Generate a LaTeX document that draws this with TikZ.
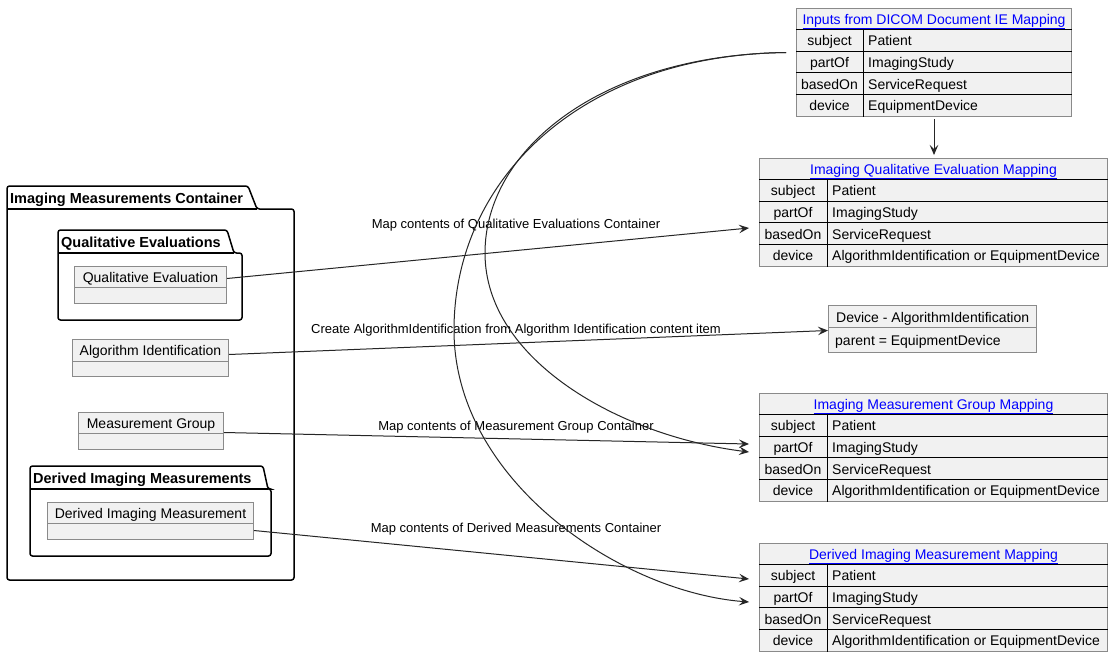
\documentclass[tikz,border=0pt]{standalone}
\usepackage{fontspec}
\setmainfont{Liberation Sans}
\usetikzlibrary{arrows.meta,calc}
\definecolor{boxfill}{HTML}{F1F1F1}
\definecolor{boxline}{HTML}{8A8A8A}
\definecolor{linkblue}{HTML}{0000FF}

\tikzset{
  clsbox/.style={draw=boxline, fill=boxfill, line width=1pt, inner sep=0pt, anchor=north west},
  clsrule/.style={draw=boxline, line width=1pt},
  clsname/.style={font=\fontsize{14}{16}\selectfont, inner sep=0pt, text height=14pt, text depth=3pt},
  tblbox/.style={draw=boxline, fill=boxfill, line width=1pt, inner sep=0pt, anchor=north west},
  tblrule/.style={draw=black, line width=0.9pt},
  tblcell/.style={font=\fontsize{14}{16}\selectfont, inner sep=0pt, text height=14pt, text depth=3pt},
  tbltitle/.style={tblcell, text=linkblue},
  pkgframe/.style={draw=black, fill=white, line width=1.5pt, rounded corners=2.5pt},
  pkgtitle/.style={font=\fontsize{14.5}{16}\selectfont\bfseries, inner sep=0pt, anchor=west, text height=14pt, text depth=3pt},
  edgelabel/.style={font=\fontsize{13}{15}\selectfont, inner sep=0pt},
  arr/.style={draw=black!85, line width=1pt, -{Stealth[length=10pt,width=8.5pt,inset=4pt]}},
}

% package: name, left, tab top, tab corner x, tab foot x, body top, right, bottom, title
\newcommand\umlpackage[9]{%
  \draw[pkgframe] (#2,#6) -- (#2,#3) -- (#4,#3) -- (#5,#6) -- (#7,#6) -- (#7,#8) -- (#2,#8) -- cycle;
  \draw[black, line width=1.5pt] (#2,#6) -- (#5,#6);
  \node[pkgtitle] (#1) at ({#2+3},{(#3+#6)/2}) {#9};
}

% class box: name, left, top, width, height, header height, text
\newcommand\classbox[7]{%
  \node[clsbox, minimum width=#4, minimum height=#5] (#1) at (#2,#3) {};
  \draw[clsrule] ($(#1.north west)+(0,#6)$) -- ($(#1.north east)+(0,#6)$);
  \node[clsname] (#1-name) at ($(#1.north)+(0,{#6/2})$) {#7};
}

% mapping table: name, left, top, width, key column width, title, device value
\newcommand\maptable[7]{%
  \node[tblbox, minimum width=#4, minimum height=108] (#1) at (#2,#3) {};
  \foreach \r in {0,1,2,3}
    \draw[tblrule] ($(#1.north west)+(0,{21.5+\r*21.6})$) -- ($(#1.north east)+(0,{21.5+\r*21.6})$);
  \draw[tblrule] ($(#1.north west)+(#5,21.5)$) -- ($(#1.south west)+(#5,0)$);
  \node[tbltitle] (#1-title) at ($(#1.north)+(0,10.75)$) {\underline{#6}};
  \foreach \r/\key/\val in {1/subject/Patient,2/partOf/ImagingStudy,3/basedOn/ServiceRequest,4/device/{#7}} {
    \node[tblcell] (#1-k\r) at ($(#1.north west)+({#5/2},{21.5+(\r-0.5)*21.6})$) {\key};
    \node[tblcell, anchor=west] (#1-v\r) at ($(#1.north west)+({#5+5},{21.5+(\r-0.5)*21.6})$) {\val};
  }
}

\begin{document}
\begin{tikzpicture}[x=1pt,y=-1pt]
\useasboundingbox[fill=white] (0,0) rectangle (1112,657);

% containers
\umlpackage{pkg-container}{7}{186}{248}{257}{209}{294}{580}{Imaging Measurements Container}
\umlpackage{pkg-qual}{58}{230}{227}{234}{253}{242}{320}{Qualitative Evaluations}
\umlpackage{pkg-derived}{30}{466}{263}{268}{489}{271}{556}{Derived Imaging Measurements}

% content items
\classbox{qe}{74}{266}{152}{37}{21}{Qualitative Evaluation}
\classbox{ai}{72}{339}{156}{37}{22}{Algorithm Identification}
\classbox{mg}{78}{412}{145}{37}{21}{Measurement Group}
\classbox{dim}{47}{502}{206}{37}{21}{Derived Imaging Measurement}

% FHIR side
\maptable{inputs}{796}{8}{275}{67}{Inputs from DICOM Document IE Mapping}{EquipmentDevice}
\maptable{iqe}{759}{158}{348}{68}{Imaging Qualitative Evaluation Mapping}{AlgorithmIdentification or EquipmentDevice}
\maptable{img}{759}{393}{348}{68}{Imaging Measurement Group Mapping}{AlgorithmIdentification or EquipmentDevice}
\maptable{der}{759}{543}{348}{68}{Derived Imaging Measurement Mapping}{AlgorithmIdentification or EquipmentDevice}

\node[clsbox, minimum width=208, minimum height=47] (devai) at (828,305) {};
\draw[clsrule] ($(devai.north west)+(0,22)$) -- ($(devai.north east)+(0,22)$);
\node[clsname, anchor=west] (devai-name) at ($(devai.north west)+(8,11.5)$) {Device - AlgorithmIdentification};
\node[clsname, anchor=west] (devai-attr) at ($(devai.north west)+(7,35)$) {parent = EquipmentDevice};

% connector labels
\node[edgelabel] (lbl-qe) at (516,225.5) {Map contents of Qualitative Evaluations Container};
\node[edgelabel] (lbl-ai) at (516,330.5) {Create AlgorithmIdentification from Algorithm Identification content item};
\node[edgelabel] (lbl-mg) at (516,427.5) {Map contents of Measurement Group Container};
\node[edgelabel] (lbl-dim) at (516,529.5) {Map contents of Derived Measurements Container};

% connector ends
\coordinate (in-out) at ($(inputs.west)+(-10,-10)$);
\coordinate (iqe-in) at ($(iqe.west)+(-10,15.5)$);
\coordinate (img-in1) at ($(img.west)+(-10,-3.5)$);
\coordinate (img-in2) at ($(img.west)+(-10,4.5)$);
\coordinate (der-in1) at ($(der.west)+(-10,-18.5)$);
\coordinate (der-in2) at ($(der.west)+(-10,4.5)$);

% connectors
\draw[arr] ($(qe.east)+(0,-6.5)$) -- (iqe-in);
\draw[arr] ($(ai.east)+(0,-3.5)$) -- ($(devai.west)+(0,1.5)$);
\draw[arr] ($(mg.east)+(0,1.5)$) -- (img-in1);
\draw[arr] ($(dim.east)+(0,9.5)$) -- (der-in1);
\draw[arr, shorten <=2pt, shorten >=3pt] (inputs.south) -- (inputs.south |- iqe.north);
\draw[arr] (in-out) .. controls (600,55) and (485,150) .. (485,253)
                    .. controls (485,360) and (620,436) .. (img-in2);
\draw[arr] (in-out) .. controls (580,55) and (454,180) .. (454,330)
                    .. controls (454,480) and (620,592) .. (der-in2);
\end{tikzpicture}
\end{document}
